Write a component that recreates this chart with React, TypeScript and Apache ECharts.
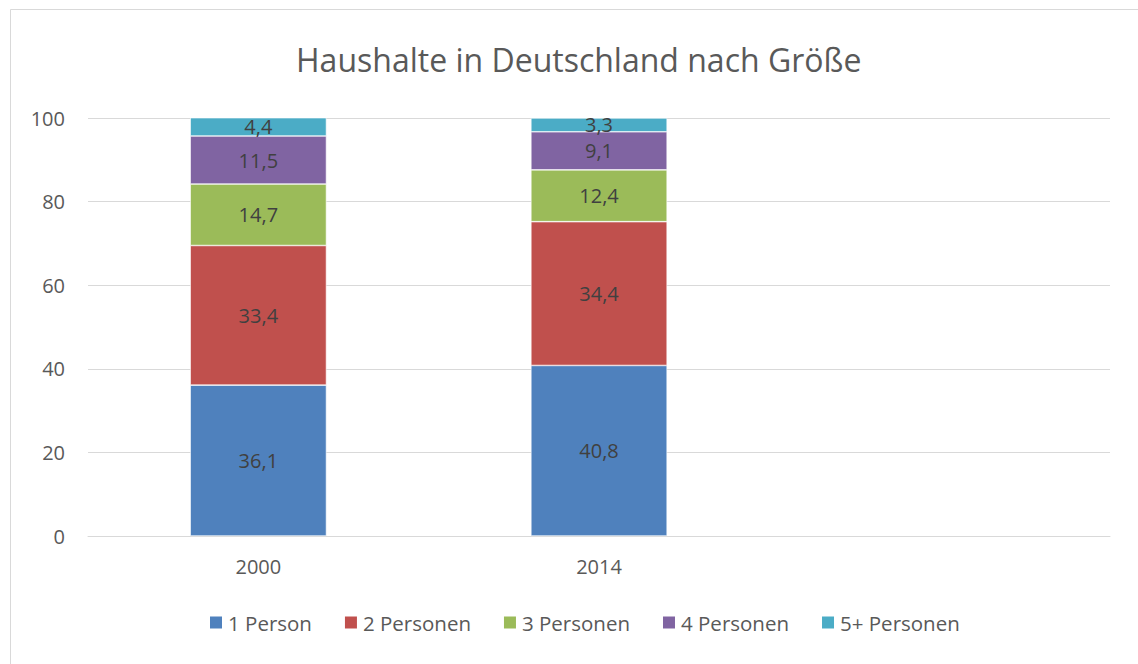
import React, { useEffect, useRef } from "react";
import * as echarts from "echarts";

const categories = ["2000", "2014", ""];
const seriesNames = ["1 Person", "2 Personen", "3 Personen", "4 Personen", "5+ Personen"];
const person1 = [36.1, 40.8, null];
const person2 = [33.4, 34.4, null];
const person3 = [14.7, 12.4, null];
const person4 = [11.5, 9.1, null];
const person5 = [4.4, 3.3, null];
const colors = ["#4F81BD", "#C0504D", "#9BBB59", "#8064A2", "#4BACC6"];

const FONT = "'Open Sans', 'Noto Sans', sans-serif";

export default function App() {
  const ref = useRef<HTMLDivElement>(null);
  useEffect(() => {
    const chart = echarts.init(ref.current!, null, { renderer: "svg" });
    const values = [person1, person2, person3, person4, person5];
    chart.setOption({
      animation: false,
      textStyle: { fontFamily: FONT },
      title: {
        text: "Haushalte in Deutschland nach Größe",
        left: 291,
        top: 38,
        textStyle: { fontSize: 32, fontWeight: "normal", color: "#595959", fontFamily: FONT },
      },
      legend: {
        data: seriesNames,
        bottom: 26,
        left: 203,
        itemWidth: 14,
        itemHeight: 14,
        itemGap: 31,
        icon: "rect",
        textStyle: { fontSize: 20.5, color: "#595959", fontFamily: FONT },
      },
      grid: { left: 88, right: 28, top: 118, bottom: 128, containLabel: false },
      xAxis: {
        type: "category",
        data: categories,
        axisLine: { lineStyle: { color: "#d9d9d9", width: 1 } },
        axisTick: { show: false },
        axisLabel: { fontSize: 20, color: "#595959", margin: 20, fontFamily: FONT },
      },
      yAxis: {
        type: "value",
        min: 0,
        max: 100,
        interval: 20,
        axisLine: { show: false },
        axisTick: { show: false },
        splitLine: { lineStyle: { color: "#d9d9d9", width: 1 } },
        axisLabel: { fontSize: 20, color: "#595959", margin: 23, fontFamily: FONT },
      },
      graphic: [
        {
          type: "rect",
          shape: { x: 10.5, y: 9.5, width: 1150, height: 680 },
          style: { fill: "none", stroke: "#d9d9d9", lineWidth: 1 },
          silent: true,
        },
      ],
      series: seriesNames.map((name, i) => ({
        name,
        type: "bar",
        stack: "total",
        barWidth: "40%",
        data: values[i],
        itemStyle: { color: colors[i], borderColor: "#ffffff", borderWidth: 0.6 },
        label: {
          show: true,
          position: "inside",
          fontSize: 20,
          color: "#404040",
          fontFamily: FONT,
          formatter: (p: any) => (p.value == null ? "" : String(p.value).replace(".", ",")),
        },
      })),
    });
    return () => chart.dispose();
  }, []);
  return (
    <div style={{ position: "fixed", left: 0, top: 0, width: 1138, height: 664, background: "#fff" }}>
      <div ref={ref} style={{ width: 1138, height: 664 }} />
    </div>
  );
}
